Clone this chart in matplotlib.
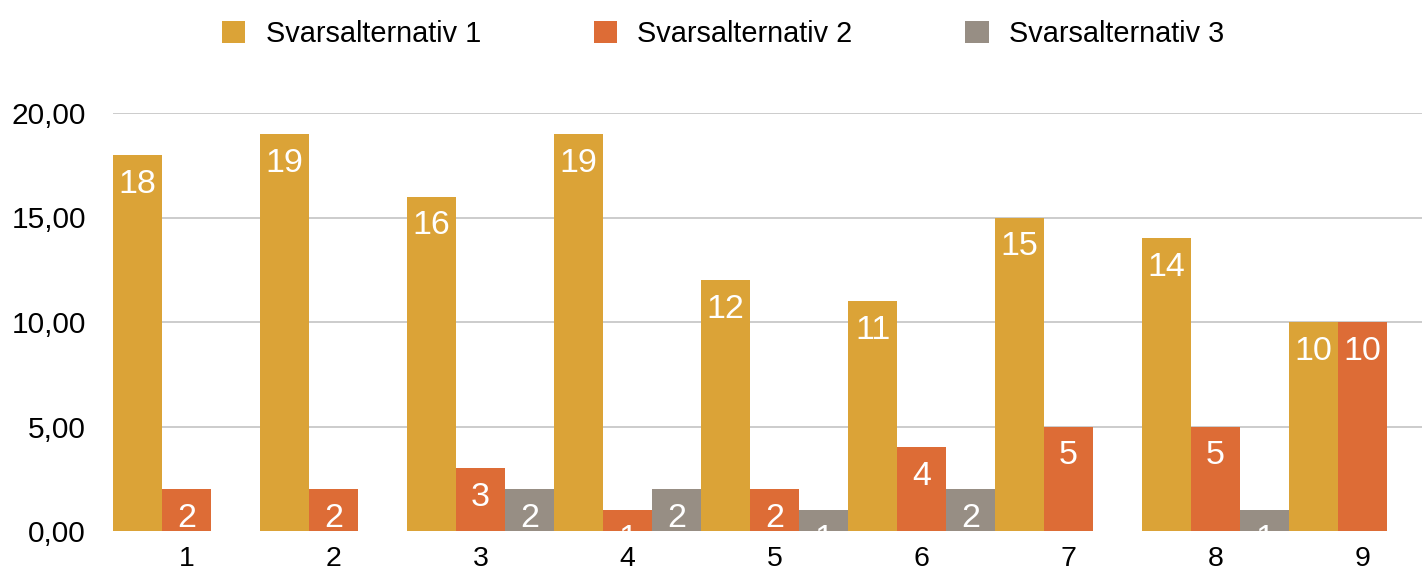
import numpy as np
import matplotlib
matplotlib.use("Agg")
import matplotlib.pyplot as plt
from matplotlib.patches import Patch

plt.rcParams['font.family'] = ['Liberation Sans', 'DejaVu Sans']

groups = ['1', '2', '3', '4', '5', '6', '7', '8', '9']
series_names = ['Svarsalternativ 1', 'Svarsalternativ 2', 'Svarsalternativ 3']
alt1 = [18, 19, 16, 19, 12, 11, 15, 14, 10]
alt2 = [2, 2, 3, 1, 2, 4, 5, 5, 10]
alt3 = [0, 0, 2, 2, 1, 2, 0, 1, 0]
colors = ['#DBA337', '#DD6C36', '#978E84']
yticks = [0, 5, 10, 15, 20]

fig = plt.figure(figsize=(14.22, 5.72), dpi=100)
ax = fig.add_axes([113 / 1422, 41 / 572, 1 - 113 / 1422, 418 / 572])

x = np.arange(len(groups))
w = 1 / 3
for k, (vals, col) in enumerate(zip([alt1, alt2, alt3], colors)):
    bars = ax.bar(x + (k - 1) * w, vals, width=w, color=col, linewidth=0, zorder=2)
    for b, v in zip(bars, vals):
        if v == 0:
            continue
        t = ax.annotate(str(v), (b.get_x() + b.get_width() / 2, v),
                        xytext=(0, -10), textcoords='offset points',
                        ha='center', va='top', color='white', fontsize=24.5, zorder=3)
        t.set_clip_path(b)

ax.set_xlim(-0.5, -0.5 + (1422 - 113) / 147)
ax.set_ylim(0, 20)
ax.set_yticks(yticks)
ax.set_yticklabels([f'{v:.2f}'.replace('.', ',') for v in yticks], fontsize=21.5)
ax.set_xticks(x)
ax.set_xticklabels(groups, fontsize=20.5)
ax.tick_params(axis='y', length=0, pad=19.5)
ax.tick_params(axis='x', length=0, pad=11)
for s in ax.spines.values():
    s.set_visible(False)
for v in yticks[1:]:
    ax.axhline(v, color='#c4c4c4', linewidth=1.2, zorder=1)

handles = [Patch(facecolor=c, edgecolor='none') for c in colors]
fig.legend(handles, series_names, loc='center', bbox_to_anchor=(0.5085, 1 - 34 / 572),
           ncol=3, frameon=False, fontsize=20.8, handlelength=0.82, handleheight=0.82,
           handletextpad=0.7, columnspacing=3.9)

fig.savefig('out.png', dpi=100)
